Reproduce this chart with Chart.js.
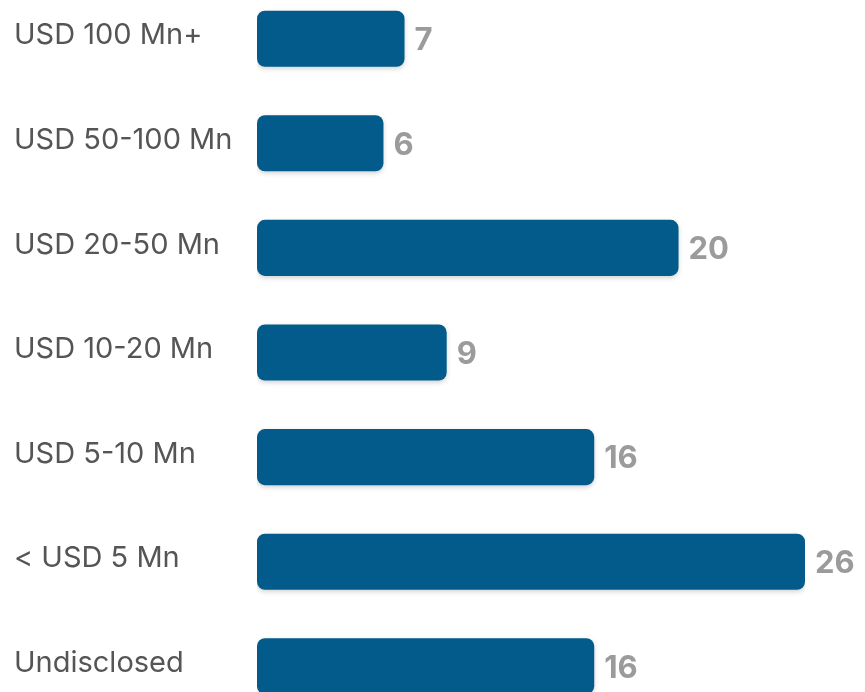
<!DOCTYPE html>
<html>
<head>
<meta charset="utf-8">
<script src="https://cdn.jsdelivr.net/npm/chart.js@4/dist/chart.umd.min.js"></script>
<style>
  html, body { margin: 0; padding: 0; background: #fff; overflow: hidden; }
  #wrap { position: relative; width: 865px; height: 692px; overflow: hidden; }
  #box { position: absolute; left: 0; top: -31px; width: 865px; height: 767px; }
</style>
</head>
<body>
<div id="wrap"><div id="box"><canvas id="dealChart"></canvas></div></div>
<script>
const categories = [
  "USD 100 Mn+",
  "USD 50-100 Mn",
  "USD 20-50 Mn",
  "USD 10-20 Mn",
  "USD 5-10 Mn",
  "< USD 5 Mn",
  "Undisclosed",
];
const dealCounts = [7, 6, 20, 9, 16, 26, 16];

// soft shadow under the bars
const barShadow = {
  id: "barShadow",
  beforeDatasetsDraw(chart) {
    const ctx = chart.ctx;
    ctx.save();
    ctx.shadowColor = "rgba(0, 0, 0, 0.18)";
    ctx.shadowBlur = 5;
    ctx.shadowOffsetY = 2;
  },
  afterDatasetsDraw(chart) {
    chart.ctx.restore();
  },
};

// value text at the end of each bar
const valueLabels = {
  id: "valueLabels",
  afterDatasetsDraw(chart) {
    const ctx = chart.ctx;
    const meta = chart.getDatasetMeta(0);
    ctx.save();
    ctx.font = "bold 31px Inter";
    ctx.fillStyle = "#9b9b9b";
    ctx.textAlign = "left";
    ctx.textBaseline = "middle";
    meta.data.forEach((bar, i) => {
      ctx.fillText(dealCounts[i], bar.x + 10, bar.y + 2);
    });
    ctx.restore();
  },
};

const ctx = document.getElementById("dealChart").getContext("2d");

new Chart(ctx, {
  type: "bar",
  data: {
    labels: categories,
    datasets: [
      {
        data: dealCounts,
        backgroundColor: "#025b8a",
        borderRadius: 8,
        borderSkipped: false,
        categoryPercentage: 1,
        barPercentage: 0.536,
      },
    ],
  },
  options: {
    indexAxis: "y",
    responsive: true,
    maintainAspectRatio: false,
    animation: false,
    layout: {
      padding: { left: 14, right: 60, top: 0, bottom: 0 },
    },
    plugins: {
      legend: { display: false },
      tooltip: { enabled: false },
    },
    scales: {
      x: {
        display: false,
        min: 0,
        max: Math.max(...dealCounts),
      },
      y: {
        grid: { display: false, drawTicks: false },
        border: { display: false },
        ticks: {
          crossAlign: "far",
          color: "#555555",
          font: { family: "Inter", size: 29 },
          padding: 0,
          labelOffset: -3,
        },
        afterFit(scale) {
          scale.width = 243;
        },
      },
    },
  },
  plugins: [barShadow, valueLabels],
});
</script>
</body>
</html>
